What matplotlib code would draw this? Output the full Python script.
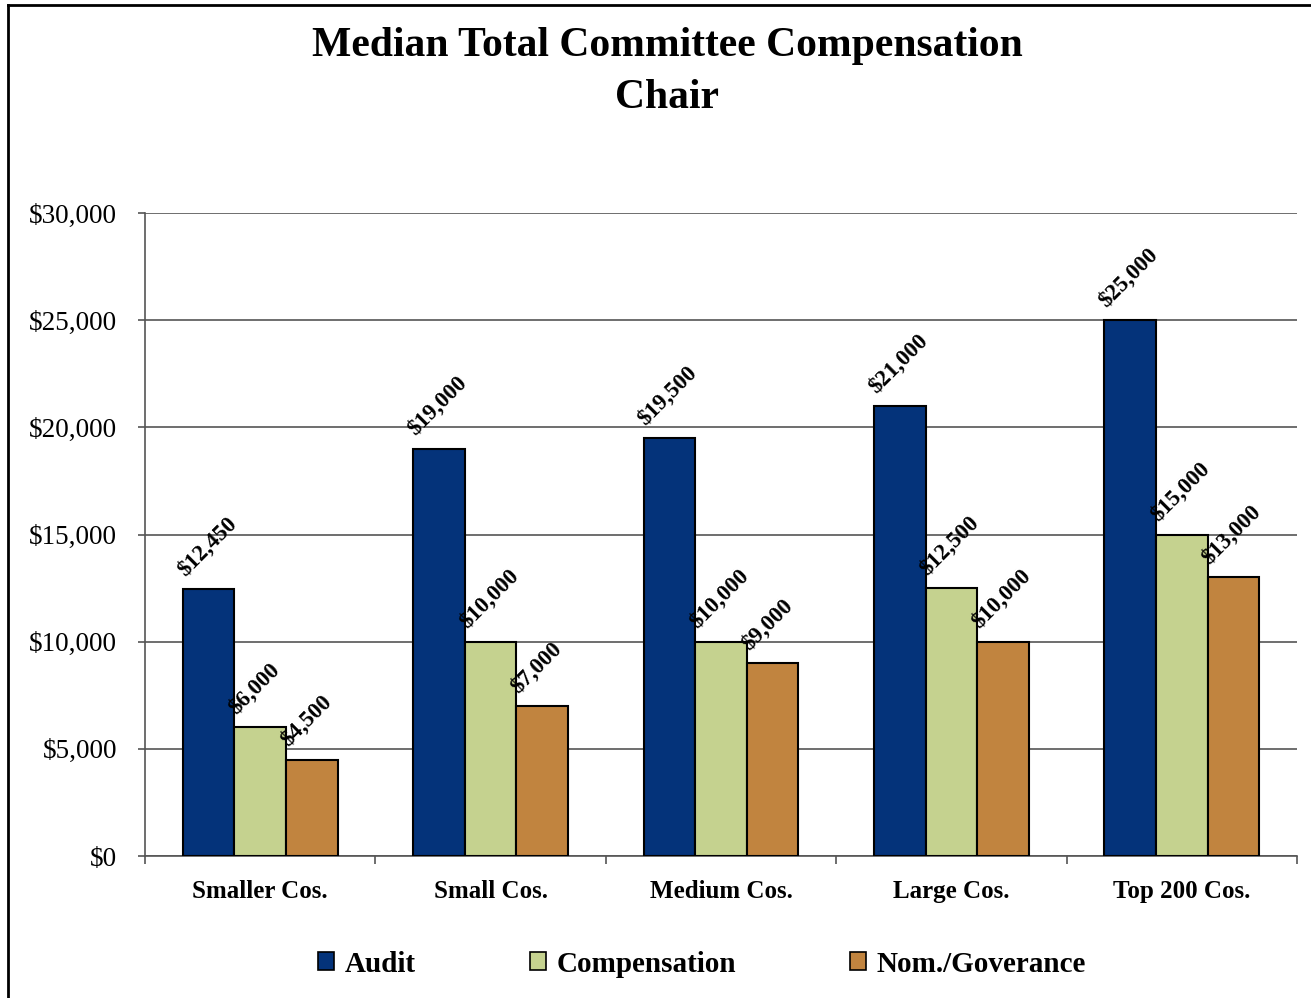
import matplotlib.pyplot as plt
import numpy as np
from matplotlib.lines import Line2D
from matplotlib.patches import Patch

categories = ['Smaller Cos.', 'Small Cos.', 'Medium Cos.', 'Large Cos.', 'Top 200 Cos.']
audit = [12450, 19000, 19500, 21000, 25000]
compensation = [6000, 10000, 10000, 12500, 15000]
nom_governance = [4500, 7000, 9000, 10000, 13000]
series_names = ['Audit', 'Compensation', 'Nom./Goverance']
colors = ['#04337A', '#C5D28F', '#C1843F']

plt.rcParams['font.family'] = ['Liberation Serif', 'DejaVu Serif']

fig = plt.figure(figsize=(13.11, 9.98), dpi=100)
ax = fig.add_axes([145 / 1311, 1 - 856 / 998, (1297 - 145) / 1311, (856 - 213) / 998])

x = np.arange(len(categories))
width = 0.224
for i, (vals, col) in enumerate(zip([audit, compensation, nom_governance], colors)):
    pos = x + (i - 1) * width
    ax.bar(pos, vals, width, color=col, edgecolor='black', linewidth=1.5, zorder=3)
    for p, v in zip(pos, vals):
        ax.text(p - width / 2 - 0.008, v + 750, '${:,}'.format(v), rotation=45,
                rotation_mode='anchor', ha='left', va='center',
                fontsize=16.5, fontweight='bold', zorder=4)

ax.set_xlim(-0.5, len(categories) - 0.5)
ax.set_ylim(0, 30000)
ax.set_yticks(np.arange(0, 30001, 5000))
ax.set_yticklabels(['${:,}'.format(v) for v in range(0, 30001, 5000)], fontsize=19.5)
ax.yaxis.grid(True, color='#555555', linewidth=1.2, zorder=0)

# category ticks sit on the group boundaries
ax.set_xticks(np.arange(-0.5, len(categories)), minor=False)
ax.set_xticklabels([])
ax.set_xticks(x, minor=True)
ax.set_xticklabels(categories, minor=True, fontsize=18, fontweight='bold')
ax.tick_params(axis='x', which='major', length=6, direction='out', color='#555555', width=1.2)
ax.tick_params(axis='x', which='minor', length=0, pad=17)
ax.tick_params(axis='y', length=5, color='#555555', width=1.2, pad=15)

for s in ['top', 'right']:
    ax.spines[s].set_visible(False)
ax.spines['left'].set_color('#555555')
ax.spines['bottom'].set_color('#555555')
ax.spines['left'].set_linewidth(1.2)
ax.spines['bottom'].set_linewidth(1.2)

fig.text(667 / 1311, 1 - 72 / 998, 'Median Total Committee Compensation\nChair',
         ha='center', va='center', fontsize=30, fontweight='bold', linespacing=1.46)

handles = [Patch(facecolor=c, edgecolor='black', linewidth=1.2) for c in colors]
fig.legend(handles, series_names, loc='center', bbox_to_anchor=(702 / 1311, 1 - 964 / 998),
           ncol=3, frameon=False, prop={'size': 21, 'weight': 'bold'},
           handlelength=0.55, handleheight=0.6, handletextpad=0.35, columnspacing=3.93)

# outer frame on the left and top edges
fig.add_artist(Line2D([8 / 1311, 8 / 1311], [0, 1 - 5 / 998], color='black', linewidth=2))
fig.add_artist(Line2D([8 / 1311, 1], [1 - 5 / 998, 1 - 5 / 998], color='black', linewidth=2))

fig.savefig('out.png', dpi=100)
